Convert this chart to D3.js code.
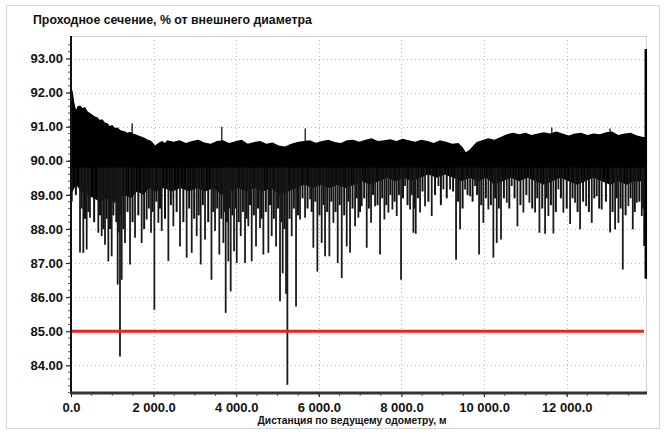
<!DOCTYPE html>
<html lang="ru">
<head>
<meta charset="utf-8">
<title>Проходное сечение</title>
<script src="https://cdn.jsdelivr.net/npm/d3@7"></script>
<style>
  body { margin: 0; background: #fff; }
  text { font-family: "Liberation Sans", Arial, sans-serif; font-weight: bold; fill: #111; }
</style>
</head>
<body>
<svg id="chart" width="665" height="433"></svg>
<script>
// upper edge of the black band [distance m, value %]
var upperEdge = [
  [0, 92.1], [40, 92.05], [80, 91.7], [120, 91.5], [160, 91.6], [220, 91.62], [280, 91.55],
  [340, 91.58], [400, 91.45], [460, 91.4], [520, 91.35], [580, 91.3], [640, 91.28], [700, 91.2],
  [760, 91.22], [820, 91.12], [880, 91.1], [940, 91.02], [1000, 91.05], [1065, 90.96],
  [1130, 90.98], [1190, 90.9], [1250, 90.88], [1310, 90.86], [1370, 90.82], [1430, 90.85],
  [1500, 90.8], [1560, 90.78], [1620, 90.75], [1680, 90.72], [1740, 90.7], [1800, 90.66],
  [1860, 90.62], [1910, 90.6], [1970, 90.55], [2030, 90.45], [2090, 90.5], [2150, 90.55],
  [2210, 90.58], [2270, 90.52], [2330, 90.6], [2480, 90.56], [2630, 90.6], [2780, 90.52],
  [2930, 90.58], [3080, 90.62], [3230, 90.54], [3380, 90.5], [3530, 90.58], [3680, 90.6],
  [3830, 90.52], [3980, 90.57], [4130, 90.62], [4280, 90.5], [4430, 90.55], [4580, 90.58],
  [4730, 90.5], [4880, 90.54], [5030, 90.45], [5180, 90.42], [5330, 90.5], [5480, 90.55],
  [5630, 90.58], [5780, 90.6], [5930, 90.53], [6080, 90.58], [6230, 90.62], [6380, 90.55],
  [6530, 90.52], [6680, 90.6], [6830, 90.62], [6980, 90.56], [7130, 90.62], [7280, 90.66],
  [7430, 90.58], [7580, 90.6], [7730, 90.63], [7880, 90.58], [8030, 90.65], [8180, 90.6],
  [8330, 90.56], [8480, 90.62], [8630, 90.58], [8780, 90.52], [8930, 90.6], [9080, 90.56],
  [9230, 90.5], [9380, 90.52], [9480, 90.4], [9560, 90.25], [9640, 90.32], [9720, 90.42],
  [9820, 90.55], [9950, 90.6], [10100, 90.66], [10250, 90.62], [10400, 90.7], [10550, 90.78],
  [10700, 90.82], [10850, 90.78], [11000, 90.82], [11150, 90.76], [11300, 90.8], [11450, 90.84],
  [11600, 90.8], [11750, 90.86], [11900, 90.8], [12050, 90.74], [12200, 90.8], [12350, 90.82],
  [12500, 90.76], [12650, 90.8], [12800, 90.78], [12950, 90.84], [13100, 90.86], [13250, 90.76],
  [13400, 90.8], [13550, 90.82], [13700, 90.74], [13850, 90.7], [13920, 90.7]
];

// lower edge of the solid part of the band
var lowerEdge = [
  [0, 89.0], [120, 89.3], [250, 89.1], [400, 89.0], [550, 88.9], [700, 88.8], [850, 88.9],
  [1000, 88.8], [1150, 88.9], [1300, 89.0], [1450, 88.9], [1600, 89.1], [1750, 89.0],
  [1900, 89.2], [2050, 89.1], [2250, 89.2], [2450, 89.1], [2650, 89.2], [2850, 89.1],
  [3050, 89.2], [3250, 89.1], [3450, 89.2], [3650, 89.0], [3850, 89.1], [4050, 89.2],
  [4250, 89.1], [4450, 89.2], [4650, 89.1], [4850, 89.2], [5050, 89.0], [5250, 89.1],
  [5450, 89.2], [5650, 89.3], [5850, 89.2], [6050, 89.3], [6250, 89.2], [6450, 89.3],
  [6650, 89.2], [6850, 89.3], [7050, 89.4], [7250, 89.3], [7450, 89.4], [7650, 89.5],
  [7850, 89.4], [8050, 89.5], [8250, 89.4], [8450, 89.5], [8650, 89.6], [8850, 89.5],
  [9050, 89.6], [9250, 89.5], [9450, 89.4], [9650, 89.5], [9850, 89.4], [10050, 89.5],
  [10250, 89.3], [10450, 89.4], [10650, 89.5], [10850, 89.4], [11050, 89.5], [11250, 89.4],
  [11450, 89.3], [11650, 89.4], [11850, 89.5], [12050, 89.4], [12250, 89.3], [12450, 89.4],
  [12650, 89.5], [12850, 89.4], [13050, 89.3], [13250, 89.4], [13450, 89.3], [13650, 89.4],
  [13920, 89.4]
];

// narrow peaks above the band
var upSpikes = [[1480, 91.1], [3650, 91.0], [5670, 90.95], [11640, 90.98], [13050, 90.95]];

// long downward spikes: [distance, lowest value]
var downSpikes = [
  [20, 88.8], [218, 87.31], [298, 87.3], [380, 87.4], [460, 88.33], [661, 87.89], [743, 87.79],
  [823, 87.54], [904, 87.05], [985, 87.2], [1065, 88.77], [1130, 86.37], [1186, 84.26],
  [1227, 86.51], [1307, 87.59], [1429, 86.96], [1550, 87.74], [1711, 87.59], [1832, 88.28],
  [1937, 87.89], [2018, 85.63], [2115, 88.18], [2196, 87.94], [2357, 87.06], [2478, 88.08],
  [2639, 87.49], [2800, 87.16], [2922, 87.3], [3043, 87.79], [3140, 86.96], [3245, 87.69],
  [3400, 86.51], [3487, 87.94], [3591, 87.25], [3688, 87.59], [3745, 85.54], [3809, 87.05],
  [3866, 86.17], [3947, 87.35], [4012, 87.0], [4109, 87.79], [4213, 87.0], [4293, 88.08],
  [4375, 87.05], [4479, 87.49], [4576, 88.03], [4657, 87.25], [4778, 87.3], [4859, 87.79],
  [4964, 87.49], [5060, 85.88], [5125, 86.7], [5206, 86.1], [5238, 83.43], [5343, 87.79],
  [5448, 85.73], [5545, 88.28], [5666, 88.33], [5787, 88.87], [5867, 87.45], [5964, 86.75],
  [6069, 87.59], [6150, 87.2], [6255, 87.2], [6352, 88.18], [6457, 87.0], [6554, 86.56],
  [6675, 87.49], [6755, 87.3], [6877, 88.08], [6957, 88.33], [7038, 88.67], [7159, 87.45],
  [7264, 88.18], [7361, 88.67], [7482, 87.25], [7587, 88.28], [7684, 88.48], [7781, 88.57],
  [7886, 88.38], [7990, 86.51], [8087, 89.26], [8208, 88.57], [8289, 87.89], [8346, 87.86],
  [8450, 88.48], [8571, 88.67], [8733, 88.38], [8894, 89.26], [9015, 89.16], [9177, 89.16],
  [9322, 87.1], [9419, 87.99], [9540, 89.16], [9661, 88.96], [9782, 89.26], [9879, 87.25],
  [9983, 88.18], [10104, 88.57], [10225, 87.16], [10307, 87.59], [10410, 87.69], [10549, 88.77],
  [10670, 89.26], [10807, 88.08], [10952, 88.48], [11097, 88.77], [11235, 88.48], [11340, 87.89],
  [11477, 87.86], [11557, 88.38], [11678, 87.87], [11799, 89.16], [11920, 88.48], [12082, 88.15],
  [12203, 88.77], [12324, 87.99], [12470, 88.67], [12607, 88.18], [12728, 88.96], [12849, 88.57],
  [13051, 87.9], [13172, 87.99], [13252, 88.18], [13358, 86.81], [13494, 88.67], [13600, 87.99],
  [13697, 88.77], [13818, 88.38], [13874, 87.5]
];

// short spikes filling the lower fringe of the band
var shortSpikes = [
  [119, 89.0], [258, 88.6], [339, 88.3], [420, 88.5], [560, 88.2], [702, 88.4], [783, 88.0],
  [863, 88.3], [944, 88.0], [1025, 88.4], [1097, 88.2], [1158, 87.9], [1206, 88.4], [1267, 88.0],
  [1368, 88.5], [1490, 88.2], [1630, 88.4], [1771, 88.0], [1884, 88.6], [1977, 88.5], [2066, 88.8],
  [2155, 88.6], [2276, 88.3], [2417, 88.7], [2558, 88.5], [2720, 88.2], [2861, 88.6], [2982, 88.3],
  [3091, 88.4], [3192, 88.7], [3322, 88.2], [3443, 88.5], [3539, 88.6], [3639, 88.3], [3716, 88.5],
  [3777, 88.2], [3837, 88.6], [3906, 88.4], [3980, 88.6], [4060, 88.2], [4161, 88.5], [4253, 88.3],
  [4334, 88.7], [4427, 88.4], [4527, 88.6], [4616, 88.3], [4717, 88.5], [4818, 88.7], [4911, 88.3],
  [5012, 88.6], [5092, 88.2], [5165, 88.0], [5290, 88.3], [5395, 88.6], [5496, 88.4], [5605, 88.9],
  [5726, 88.6], [5827, 88.5], [5915, 88.8], [6016, 88.4], [6110, 88.7], [6202, 88.5], [6303, 88.8],
  [6404, 88.5], [6505, 88.7], [6614, 88.4], [6715, 88.8], [6816, 88.6], [6917, 88.9], [6997, 88.5],
  [7098, 88.9], [7211, 88.6], [7312, 89.0], [7421, 88.7], [7534, 88.9], [7635, 88.7], [7732, 89.0],
  [7833, 88.8], [7938, 89.0], [8038, 88.9], [8147, 88.7], [8248, 89.0], [8317, 88.6], [8398, 88.9],
  [8510, 89.1], [8652, 88.8], [8813, 89.0], [8954, 88.7], [9096, 88.9], [9250, 89.1], [9370, 88.8],
  [9480, 88.6], [9600, 89.0], [9722, 88.8], [9830, 89.0], [9931, 88.7], [10043, 88.9], [10164, 88.7],
  [10266, 88.9], [10358, 88.6], [10480, 88.9], [10610, 88.6], [10738, 88.9], [10880, 88.7],
  [11024, 89.0], [11166, 88.6], [11288, 88.9], [11408, 88.6], [11517, 88.9], [11618, 88.7],
  [11738, 88.5], [11860, 88.9], [12001, 88.6], [12142, 88.9], [12264, 88.5], [12397, 88.8],
  [12538, 88.5], [12668, 88.9], [12788, 88.6], [12950, 88.8], [13111, 88.5], [13212, 88.9],
  [13305, 88.6], [13426, 88.4], [13547, 88.9], [13648, 88.5], [13758, 88.8], [13846, 88.6]
];

// last reading at the end of the run: [distance, max, min]
var endSpike = [13915, 93.28, 86.54];

var limitValue = 85.0;
var yTicks = [84, 85, 86, 87, 88, 89, 90, 91, 92, 93];
var xTicks = [0, 2000, 4000, 6000, 8000, 10000, 12000];

var title = "Проходное сечение, % от внешнего диаметра";
var xTitle = "Дистанция по ведущему одометру, м";

var svg = d3.select("#chart");

// outer frame
svg.append("rect")
  .attr("x", 6.5).attr("y", 5.5)
  .attr("width", 653).attr("height", 423)
  .attr("fill", "none").attr("stroke", "#d8d8d8");

var pLeft = 71, pRight = 646, pTop = 36, pBottom = 393;

var x = d3.scaleLinear().domain([0, 13920]).range([pLeft, pRight]);
var y = d3.scaleLinear().domain([83.19, 93.66]).range([pBottom, pTop]);

// grid
svg.append("g").selectAll("line").data(yTicks).join("line")
  .attr("x1", pLeft).attr("x2", pRight)
  .attr("y1", function (d) { return Math.round(y(d)) + 0.5; })
  .attr("y2", function (d) { return Math.round(y(d)) + 0.5; })
  .attr("stroke", "#b8b8b8").attr("stroke-dasharray", "1,3");

svg.append("g").selectAll("line").data(xTicks.slice(1)).join("line")
  .attr("x1", function (d) { return Math.round(x(d)) + 0.5; })
  .attr("x2", function (d) { return Math.round(x(d)) + 0.5; })
  .attr("y1", pTop).attr("y2", pBottom)
  .attr("stroke", "#b8b8b8").attr("stroke-dasharray", "1,3");

// plot border top and right
svg.append("path")
  .attr("d", "M" + pLeft + "," + (pTop + 0.5) + "H" + (pRight + 0.5) + "V" + pBottom)
  .attr("fill", "none").attr("stroke", "#cfcfcf");

// band
var line = d3.line()
  .x(function (d) { return x(d[0]); })
  .y(function (d) { return y(d[1]); });

var band = upperEdge.concat(lowerEdge.slice().reverse());
svg.append("path")
  .attr("d", line(band) + "Z")
  .attr("fill", "#000");

svg.append("g").selectAll("line").data(upSpikes).join("line")
  .attr("x1", function (d) { return x(d[0]); })
  .attr("x2", function (d) { return x(d[0]); })
  .attr("y1", function (d) { return y(d[1]); })
  .attr("y2", y(90.3))
  .attr("stroke", "#000").attr("stroke-width", 1.2);

svg.append("g").selectAll("line").data(shortSpikes).join("line")
  .attr("x1", function (d) { return x(d[0]); })
  .attr("x2", function (d) { return x(d[0]); })
  .attr("y1", y(89.8))
  .attr("y2", function (d) { return y(d[1]); })
  .attr("stroke", "#111").attr("stroke-width", 2);

svg.append("g").selectAll("line").data(downSpikes).join("line")
  .attr("x1", function (d) { return x(d[0]); })
  .attr("x2", function (d) { return x(d[0]); })
  .attr("y1", y(89.8))
  .attr("y2", function (d) { return y(d[1]); })
  .attr("stroke", "#1a1a1a").attr("stroke-width", 1.8);

svg.append("line")
  .attr("x1", x(endSpike[0])).attr("x2", x(endSpike[0]))
  .attr("y1", y(endSpike[1])).attr("y2", y(endSpike[2]))
  .attr("stroke", "#000").attr("stroke-width", 2.5);

// limit line
svg.append("line")
  .attr("x1", pLeft).attr("x2", pRight - 2)
  .attr("y1", y(limitValue)).attr("y2", y(limitValue))
  .attr("stroke", "#e3261f").attr("stroke-width", 3);

// y axis
var yAxis = d3.axisLeft(y).tickValues(yTicks).tickSize(5).tickPadding(3)
  .tickFormat(d3.format(".2f"));
var gy = svg.append("g").attr("transform", "translate(" + pLeft + ",0)").call(yAxis);
gy.select(".domain").remove();
gy.selectAll("text").attr("font-size", 13).attr("font-family", "Liberation Sans, Arial, sans-serif")
  .attr("font-weight", "bold").attr("fill", "#111");
var yMinor = d3.range(83.2, 93.6, 0.2);
svg.append("g").selectAll("line").data(yMinor).join("line")
  .attr("x1", pLeft - 3).attr("x2", pLeft)
  .attr("y1", function (d) { return y(d); }).attr("y2", function (d) { return y(d); })
  .attr("stroke", "#555");
svg.append("line")
  .attr("x1", pLeft).attr("x2", pLeft).attr("y1", pTop).attr("y2", pBottom)
  .attr("stroke", "#111").attr("stroke-width", 2);

// x axis
var xAxis = d3.axisBottom(x).tickValues(xTicks).tickSize(4).tickPadding(6)
  .tickFormat(function (d) { return d3.format(",.1f")(d).replace(/,/g, " "); });
var gx = svg.append("g").attr("transform", "translate(0," + pBottom + ")").call(xAxis);
gx.select(".domain").remove();
gx.selectAll("text").attr("font-size", 13).attr("font-family", "Liberation Sans, Arial, sans-serif")
  .attr("font-weight", "bold").attr("fill", "#111");
var xMinor = d3.range(500, 13920, 500);
svg.append("g").selectAll("line").data(xMinor).join("line")
  .attr("x1", function (d) { return x(d); }).attr("x2", function (d) { return x(d); })
  .attr("y1", pBottom).attr("y2", pBottom + 3)
  .attr("stroke", "#666");
svg.append("line")
  .attr("x1", pLeft - 1).attr("x2", pRight + 1).attr("y1", pBottom).attr("y2", pBottom)
  .attr("stroke", "#333").attr("stroke-width", 3);

// titles
svg.append("text")
  .attr("x", 33).attr("y", 24)
  .attr("font-size", 12.5)
  .attr("textLength", 279).attr("lengthAdjust", "spacingAndGlyphs")
  .text(title);

svg.append("text")
  .attr("x", 352).attr("y", 424)
  .attr("text-anchor", "middle")
  .attr("font-size", 10.5)
  .attr("textLength", 189).attr("lengthAdjust", "spacingAndGlyphs")
  .text(xTitle);
</script>
</body>
</html>
